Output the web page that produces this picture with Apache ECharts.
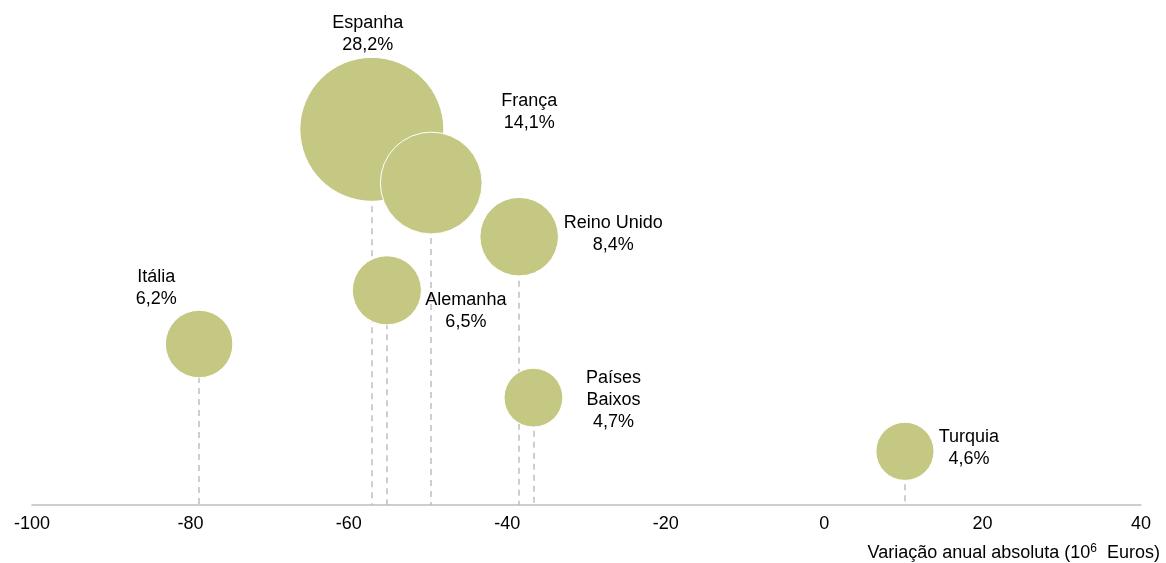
<!DOCTYPE html>
<html>
<head>
<meta charset="utf-8">
<script src="https://cdn.jsdelivr.net/npm/echarts@6/dist/echarts.min.js"></script>
<style>
html,body{margin:0;padding:0;background:#fff;}
#main{width:1166px;height:563px;}
</style>
</head>
<body>
<div id="main"></div>
<script>
// dados
var paises = ['Espanha', 'França', 'Reino Unido', 'Alemanha', 'Itália', 'Países\nBaixos', 'Turquia'];
var variacao = [-57.1, -49.6, -38.5, -55.2, -78.9, -36.7, 10.2];
var nivel = [7, 6, 5, 4, 3, 2, 1];
var quota = [28.2, 14.1, 8.4, 6.5, 6.2, 4.7, 4.6];

// posição das etiquetas (relativa ao centro da bolha)
var offsets = {
    'Espanha': [-4, -95],
    'França': [98, -71],
    'Reino Unido': [94, -3],
    'Alemanha': [79, 21],
    'Itália': [-43, -56],
    'Países\nBaixos': [80, 2],
    'Turquia': [64, -3]
};

var mychart = echarts.init(document.getElementById('main'));

var bolhas = paises.map(function (p, i) {
    return {
        name: p,
        value: [variacao[i], nivel[i], quota[i]],
        label: { offset: offsets[p] }
    };
});

var linhas = paises.map(function (p, i) {
    return [{ coord: [variacao[i], nivel[i]] }, { coord: [variacao[i], 0] }];
});

option = {
    animation: false,
    grid: { left: 32, right: 25, top: 22, bottom: 58 },
    xAxis: {
        type: 'value',
        min: -100,
        max: 40,
        interval: 20,
        splitLine: { show: false },
        axisTick: { show: false },
        axisLine: { lineStyle: { color: '#bfbfbf', width: 1.5 } },
        axisLabel: {
            color: '#000',
            fontFamily: 'Liberation Sans',
            fontSize: 18,
            margin: 10
        },
        name: '{a|Variação anual absoluta (10}{s|6}{a|  Euros)}',
        nameLocation: 'end',
        nameGap: 19,
        nameTextStyle: {
            align: 'right',
            verticalAlign: 'top',
            padding: [38, 0, 0, 0],
            rich: {
                a: { fontFamily: 'Liberation Sans', fontSize: 18, color: '#000' },
                s: { fontFamily: 'Liberation Sans', fontSize: 12, color: '#000', verticalAlign: 'top', padding: [0, 0, 8, 0] }
            }
        }
    },
    yAxis: {
        type: 'value',
        min: 0,
        max: 9,
        show: false
    },
    series: [
        {
            type: 'scatter',
            data: [],
            z: 1,
            markLine: {
                z: 1,
                silent: true,
                symbol: 'none',
                label: { show: false },
                lineStyle: { color: '#bfbfbf', type: [6, 5], width: 1.5 },
                data: linhas
            }
        },
        {
            type: 'scatter',
            z: 10,
            data: bolhas,
            symbolSize: function (v) {
                return 27.1 * Math.sqrt(v[2]);
            },
            itemStyle: {
                color: '#c5c882',
                opacity: 1,
                borderColor: '#fff',
                borderWidth: 1
            },
            label: {
                show: true,
                position: 'inside',
                align: 'center',
                verticalAlign: 'middle',
                color: '#000',
                fontFamily: 'Liberation Sans',
                fontSize: 18,
                lineHeight: 22,
                formatter: function (p) {
                    return p.name + '\n' + String(p.value[2]).replace('.', ',') + '%';
                }
            },
            emphasis: { disabled: true }
        }
    ]
};
mychart.setOption(option);
</script>
</body>
</html>
